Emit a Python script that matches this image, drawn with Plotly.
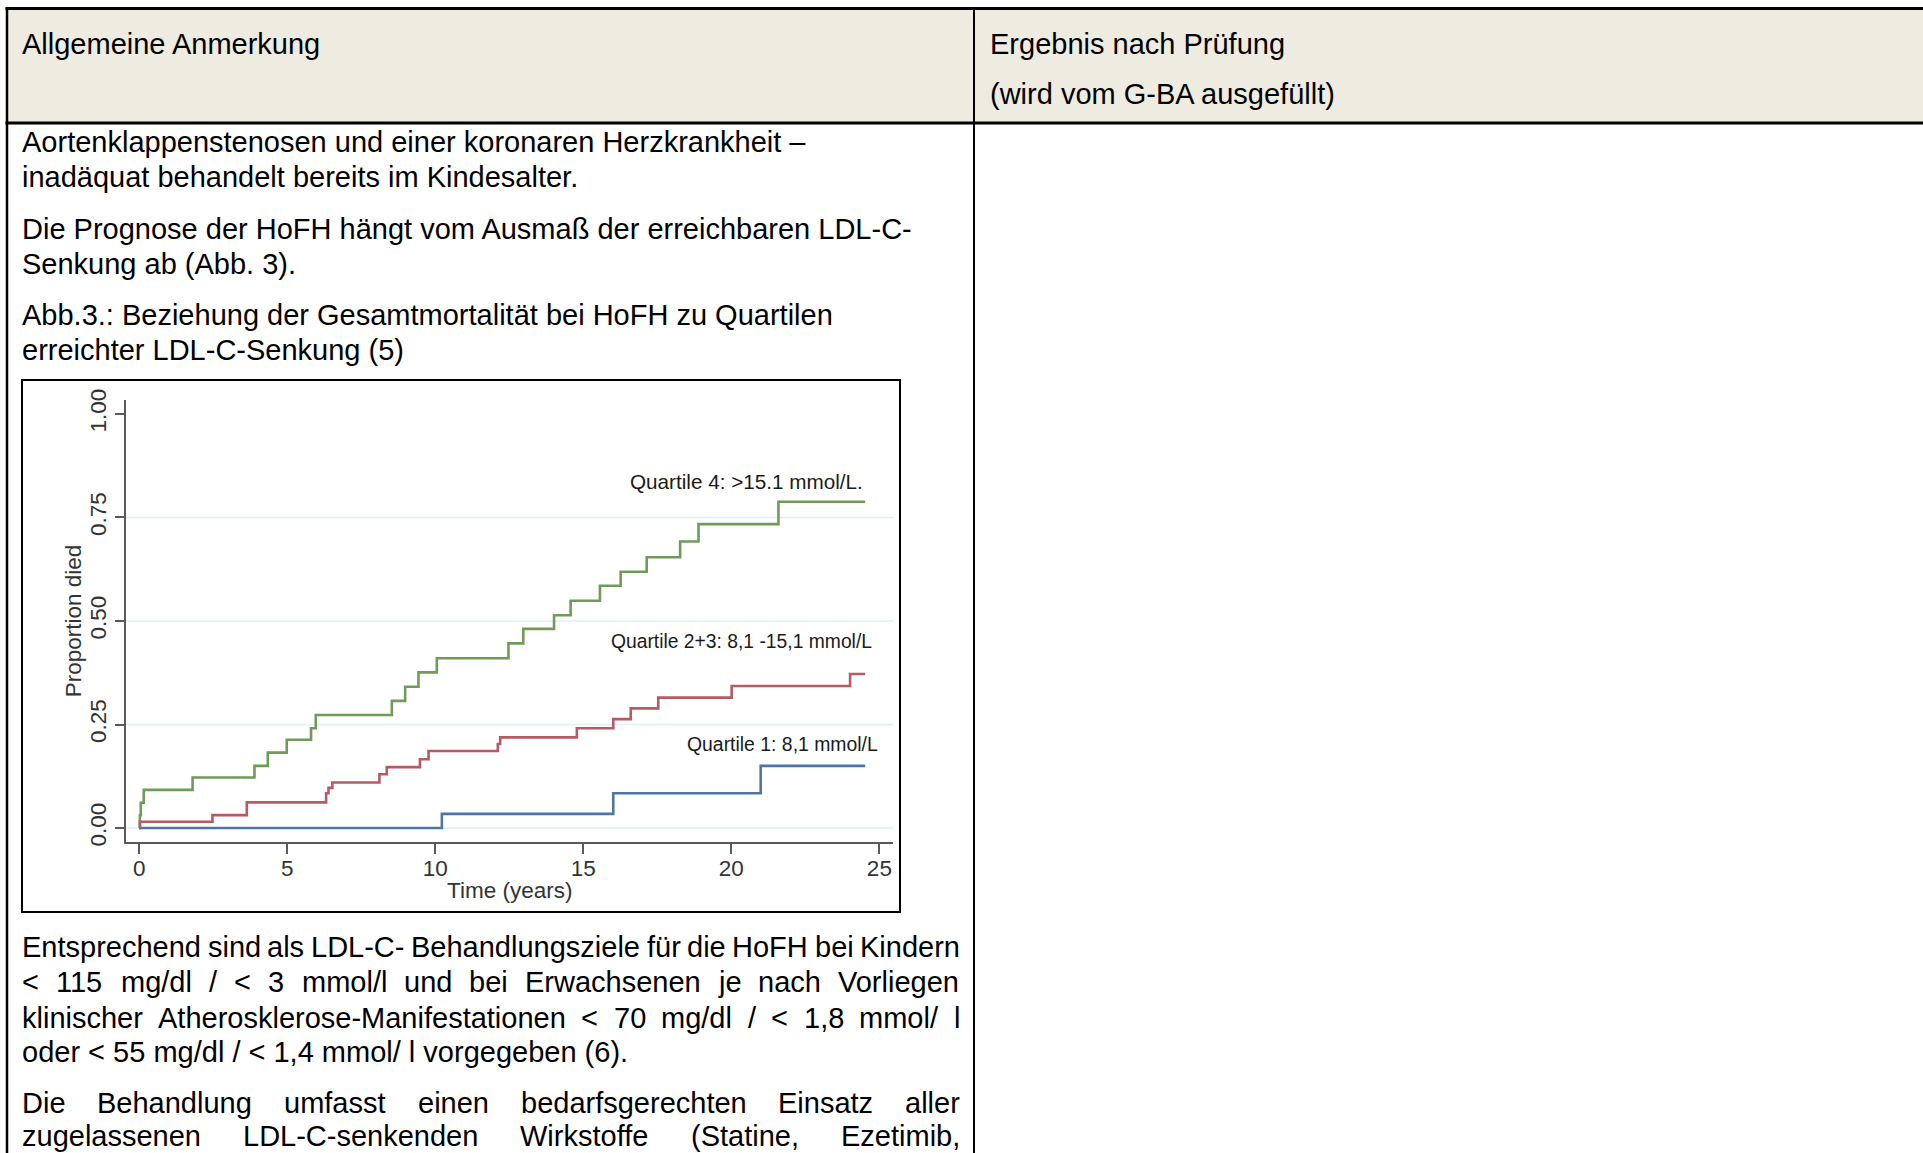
import plotly.graph_objects as go

W, H = 1923, 1153

# Kaplan-Meier curves: time (years) and cumulative proportion died
q4_time = [0, 0.02, 0.05, 0.15, 1.80, 3.89, 4.34, 4.98, 5.80, 5.96, 8.53, 8.98, 9.43, 10.05,
           12.47, 12.97, 14.01, 14.57, 15.56, 16.26, 17.14, 18.27, 18.89, 21.59, 24.52]
q4_died = [0, 0.031, 0.061, 0.092, 0.122, 0.150, 0.182, 0.213, 0.241, 0.273, 0.307, 0.341, 0.376, 0.410,
           0.446, 0.481, 0.514, 0.549, 0.585, 0.619, 0.654, 0.692, 0.734, 0.788, 0.788]

q23_time = [0, 0.02, 2.47, 3.63, 6.31, 6.39, 6.52, 8.11, 8.36, 9.48, 9.77, 12.11, 12.19,
            14.78, 16.01, 16.60, 17.53, 20.01, 24.01, 24.52]
q23_died = [0, 0.015, 0.031, 0.062, 0.084, 0.097, 0.110, 0.130, 0.147, 0.166, 0.186, 0.203, 0.219,
            0.241, 0.263, 0.289, 0.315, 0.343, 0.372, 0.372]

q1_time = [0, 10.22, 16.01, 20.99, 24.52]
q1_died = [0, 0.034, 0.084, 0.150, 0.150]

x_ticks = [0, 5, 10, 15, 20, 25]
y_ticks = [0, 0.25, 0.5, 0.75, 1.0]
y_tick_text = ["0.00", "0.25", "0.50", "0.75", "1.00"]
grid_levels = [0, 0.25, 0.5, 0.75]

series_names = ["Quartile 4: >15.1 mmol/L.", "Quartile 2+3: 8,1 -15,1 mmol/L", "Quartile 1: 8,1 mmol/L"]
series_colors = ["#6f9b59", "#b65a64", "#4f75a5"]
# curve label anchor (right end, middle) in data units, and label size
label_pos = [(24.45, 0.838), (24.75, 0.450), (24.97, 0.203)]
label_size = [20.7, 19.3, 19.4]

# document text
header_left = "Allgemeine Anmerkung"
header_right = ["Ergebnis nach Prüfung", "(wird vom G-BA ausgefüllt)"]
para_top = [
    "Aortenklappenstenosen und einer koronaren Herzkrankheit –",
    "inadäquat behandelt bereits im Kindesalter.",
    "Die Prognose der HoFH hängt vom Ausmaß der erreichbaren LDL-C-",
    "Senkung ab (Abb. 3).",
    "Abb.3.: Beziehung der Gesamtmortalität bei HoFH zu Quartilen",
    "erreichter LDL-C-Senkung (5)",
]
para_top_y = [142, 176.5, 229, 263.5, 315, 350.5]
para_bottom = [
    ("Entsprechend sind als LDL-C- Behandlungsziele für die HoFH bei Kindern", True),
    ("< 115 mg/dl / < 3 mmol/l und bei Erwachsenen je nach Vorliegen", True),
    ("klinischer Atherosklerose-Manifestationen < 70 mg/dl / < 1,8 mmol/ l", True),
    ("oder < 55 mg/dl / < 1,4 mmol/ l vorgegeben (6).", False),
    ("Die Behandlung umfasst einen bedarfsgerechten Einsatz aller", True),
    ("zugelassenen LDL-C-senkenden Wirkstoffe (Statine, Ezetimib,", True),
]
para_bottom_y = [946.5, 982, 1017.5, 1052, 1103, 1135.5]

BODY_FONT = "Liberation Sans"
BODY_SIZE = 29
TEXT_LEFT = 22
TEXT_RIGHT = 960

# Arial/Liberation Sans advance widths (1/1000 em)
CW = {}
for c, w in zip("abcdefghijklmnopqrstuvwxyz",
                [556, 556, 500, 556, 556, 278, 556, 556, 222, 222, 500, 222, 833, 556, 556, 556, 556, 333, 500, 278, 556, 500, 722, 500, 500, 500]):
    CW[c] = w
for c, w in zip("ABCDEFGHIJKLMNOPQRSTUVWXYZ",
                [667, 667, 722, 722, 667, 611, 778, 722, 278, 500, 667, 556, 833, 722, 778, 667, 778, 722, 667, 611, 722, 667, 944, 667, 667, 611]):
    CW[c] = w
for c in "0123456789":
    CW[c] = 556
CW.update({" ": 278, ",": 278, ".": 278, "/": 278, "-": 333, "(": 333, ")": 333, "<": 584, ">": 584,
           ":": 278, "+": 584, "ä": 556, "ü": 556, "ß": 611, "–": 556})


def text_w(s, size):
    return sum(CW.get(c, 556) for c in s) * size / 1000.0


def px(x):
    return x / W


def py(y):
    return 1 - y / H


fig = go.Figure()

for t, d, name, col in zip([q4_time, q23_time, q1_time], [q4_died, q23_died, q1_died], series_names, series_colors):
    fig.add_trace(go.Scatter(x=t, y=d, mode="lines", name=name, line=dict(color=col, width=2.6, shape="hv"),
                             showlegend=False, hoverinfo="x+y"))

annotations = []
shapes = []

# header row background and table rules
shapes.append(dict(type="rect", xref="paper", yref="paper", x0=px(7), x1=1, y0=py(123), y1=py(8.5),
                   fillcolor="#EEECE1", line=dict(width=0), layer="below"))
shapes.append(dict(type="line", xref="paper", yref="paper", x0=px(5.5), x1=1, y0=py(8.5), y1=py(8.5),
                   line=dict(color="#000000", width=3)))
shapes.append(dict(type="line", xref="paper", yref="paper", x0=px(5.5), x1=1, y0=py(123), y1=py(123),
                   line=dict(color="#000000", width=3)))
shapes.append(dict(type="line", xref="paper", yref="paper", x0=px(7), x1=px(7), y0=py(7), y1=0,
                   line=dict(color="#000000", width=2.5)))
shapes.append(dict(type="line", xref="paper", yref="paper", x0=px(974), x1=px(974), y0=py(7), y1=0,
                   line=dict(color="#000000", width=2)))

# figure frame
shapes.append(dict(type="rect", xref="paper", yref="paper", x0=px(22), x1=px(900), y0=py(912), y1=py(380),
                   line=dict(color="#000000", width=2), fillcolor="rgba(0,0,0,0)"))

# light gridlines
for g in grid_levels:
    shapes.append(dict(type="line", xref="x domain", yref="y", x0=0, x1=1, y0=g, y1=g,
                       line=dict(color="#e3eef3", width=1.6), layer="below"))


def add_text(s, x, y, size=BODY_SIZE, anchor="left"):
    annotations.append(dict(text=s, xref="paper", yref="paper", x=px(x), y=py(y), xanchor=anchor,
                            yanchor="middle", showarrow=False, borderpad=0, borderwidth=0,
                            font=dict(family=BODY_FONT, size=size, color="#000000")))


add_text(header_left, TEXT_LEFT, 44)
add_text(header_right[0], 990, 44)
add_text(header_right[1], 990, 94)

for s, y in zip(para_top, para_top_y):
    add_text(s, TEXT_LEFT, y)

# justified lines: words spread evenly between the text margins
for (s, justify), y in zip(para_bottom, para_bottom_y):
    if not justify:
        add_text(s, TEXT_LEFT, y)
        continue
    words = s.split(" ")
    widths = [text_w(w, BODY_SIZE) for w in words]
    gap = (TEXT_RIGHT - TEXT_LEFT - sum(widths)) / (len(words) - 1)
    gap = max(gap, 0.8 * CW[" "] * BODY_SIZE / 1000.0)
    xpos = TEXT_LEFT
    for w, ww in zip(words, widths):
        add_text(w, xpos, y)
        xpos += ww + gap

# curve labels
for name, (lx, ly), ls in zip(series_names, label_pos, label_size):
    annotations.append(dict(text=name, xref="x", yref="y", x=lx, y=ly, xanchor="right", yanchor="middle",
                            showarrow=False, borderpad=0, borderwidth=0,
                            font=dict(family="Liberation Sans", size=ls, color="#1a1a1a")))

# axis titles
annotations.append(dict(text="Time (years)", xref="x domain", yref="paper", x=0.5, y=py(890),
                        xanchor="center", yanchor="middle", showarrow=False, borderpad=0, borderwidth=0,
                        font=dict(family="Liberation Sans", size=22.5, color="#333333")))
annotations.append(dict(text="Proportion died", xref="paper", yref="y domain", x=px(73.5), y=0.5,
                        xanchor="center", yanchor="middle", showarrow=False, textangle=-90,
                        borderpad=0, borderwidth=0,
                        font=dict(family="Liberation Sans", size=22.5, color="#333333")))

fig.update_layout(
    width=W, height=H,
    margin=dict(l=0, r=0, t=0, b=0, autoexpand=False),
    paper_bgcolor="#ffffff", plot_bgcolor="#ffffff",
    annotations=annotations, shapes=shapes,
    xaxis=dict(domain=[px(126), px(893)], range=[-0.45, 25.46], tickvals=x_ticks,
               showgrid=False, zeroline=False, showline=True, linecolor="#5a5a5a", linewidth=2,
               ticks="outside", ticklen=10, tickwidth=2, tickcolor="#5a5a5a", automargin=False,
               ticklabelstandoff=-5,
               tickfont=dict(family="Liberation Sans", size=22.5, color="#333333")),
    yaxis=dict(domain=[py(841.7), py(400)], range=[-0.0331, 1.0338], tickvals=y_ticks, ticktext=y_tick_text,
               tickangle=-90, showgrid=False, zeroline=False, showline=True, linecolor="#5a5a5a", linewidth=2,
               ticks="outside", ticklen=9, tickwidth=2, tickcolor="#5a5a5a", automargin=False,
               tickfont=dict(family="Liberation Sans", size=22.5, color="#333333")),
)

# page without default body margin so the figure fills the window exactly
fig.write_html("out.html", post_script="document.body.style.margin='0';document.body.style.overflow='hidden';")
